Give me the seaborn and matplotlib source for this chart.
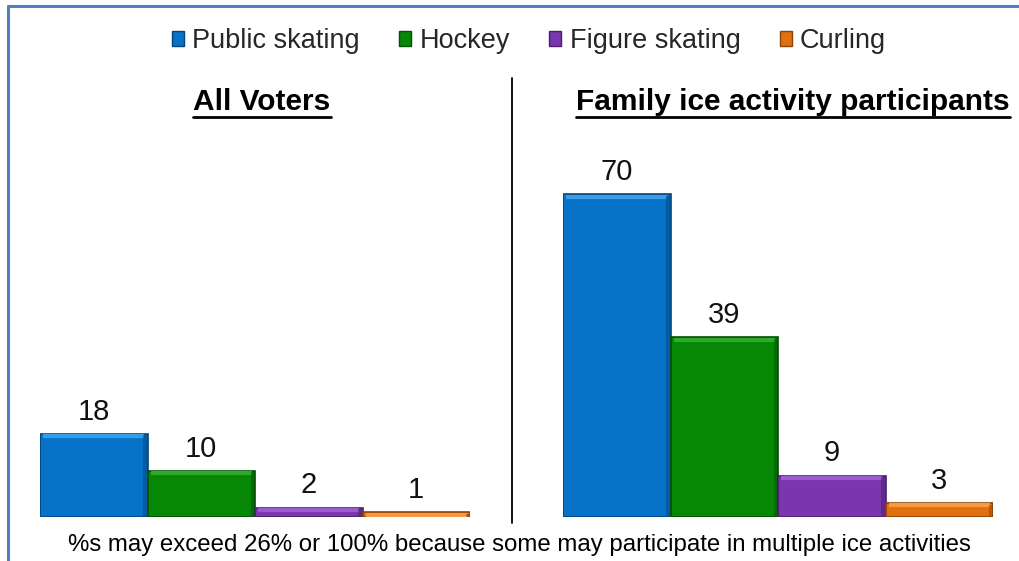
import matplotlib
matplotlib.use("Agg")
import matplotlib.pyplot as plt
from matplotlib.patches import Patch
from matplotlib.lines import Line2D
import seaborn as sns
import pandas as pd

# Data
activities = ["Public skating", "Hockey", "Figure skating", "Curling"]
all_voters = [18, 10, 2, 1]
family_participants = [70, 39, 9, 3]
panel_titles = ["All Voters", "Family ice activity participants"]
footnote = "%s may exceed 26% or 100% because some may participate in multiple ice activities"

colors = ["#0673C9", "#068806", "#7A36AE", "#E2700E"]
highlights = ["#3A9BE6", "#2FAA2F", "#9A5BCC", "#F59A45"]
edges = ["#03457A", "#034F03", "#4A1E6B", "#8A4206"]

sns.set_theme(style="white")
plt.rcParams["font.family"] = ["Liberation Sans", "DejaVu Sans"]

fig = plt.figure(figsize=(10.19, 5.61), dpi=100)
W, H = 1019, 561

# outer blue frame (left and top edges visible)
fig.add_artist(Line2D([8 / W, 8 / W], [0, 1 - 6 / H], transform=fig.transFigure,
                      color="#4F81BD", lw=2.2))
fig.add_artist(Line2D([8 / W, 1], [1 - 6 / H, 1 - 6 / H], transform=fig.transFigure,
                      color="#4F81BD", lw=2.2))

base_y = 517
px_per_unit = 4.61
ymax = 75
ax_h = ymax * px_per_unit

panels = [(40, 470, all_voters), (563, 993, family_participants)]
for (x0, x1, vals) in panels:
    ax = fig.add_axes([x0 / W, (H - base_y) / H, (x1 - x0) / W, ax_h / H])
    df = pd.DataFrame({"activity": activities, "pct": vals})
    sns.barplot(data=df, x="activity", y="pct", hue="activity", hue_order=activities,
                order=activities, palette=colors, width=1.0, ax=ax, legend=False,
                saturation=1)
    for cont, ec, hc in zip(ax.containers, edges, highlights):
        for bar in cont:
            bar.set_edgecolor(ec)
            bar.set_linewidth(1.2)
            # bevel: light strip along the top, dark strip down the right side
            bx, bw, bh = bar.get_x(), bar.get_width(), bar.get_height()
            ax.plot([bx + 0.03, bx + bw - 0.03], [bh - 0.5, bh - 0.5],
                    color=hc, lw=3, solid_capstyle="butt", zorder=3)
            ax.plot([bx + bw - 0.02, bx + bw - 0.02], [0.3, bh - 0.3],
                    color=ec, lw=3, alpha=0.5, solid_capstyle="butt", zorder=3)
        ax.bar_label(cont, labels=[f"{v:g}" for v in cont.datavalues], padding=6,
                     fontsize=21, color="#111111")
    ax.set_xlim(-0.5, 3.5)
    ax.set_ylim(0, ymax)
    ax.axis("off")

# divider between panels
fig.add_artist(Line2D([512 / W, 512 / W], [1 - 523 / H, 1 - 78 / H],
                      transform=fig.transFigure, color="black", lw=1.3))

# underlined bold panel titles
title_pos = [(262, 102), (793, 102)]
fig.canvas.draw()
renderer = fig.canvas.get_renderer()
for (cx, cy), t in zip(title_pos, panel_titles):
    txt = fig.text(cx / W, 1 - cy / H, t, ha="center", va="center",
                   fontsize=21.5, fontweight="bold", color="black")
    bb = txt.get_window_extent(renderer=renderer)
    uy = (bb.y0 - 0.5) / H
    fig.add_artist(Line2D([bb.x0 / W, bb.x1 / W], [uy, uy],
                          transform=fig.transFigure, color="black", lw=2))

# legend across the top
handles = [Patch(facecolor=c, edgecolor=e, linewidth=1) for c, e in zip(colors, edges)]
fig.legend(handles, activities, loc="center", bbox_to_anchor=(529 / W, 1 - 41 / H),
           ncol=4, frameon=False, fontsize=19.5, handlelength=0.45, handleheight=0.45,
           handletextpad=0.3, columnspacing=1.45)

fig.text(519 / W, 1 - 545 / H, footnote, ha="center", va="center",
         fontsize=17.3, color="black")

fig.savefig("out.png", dpi=100)
